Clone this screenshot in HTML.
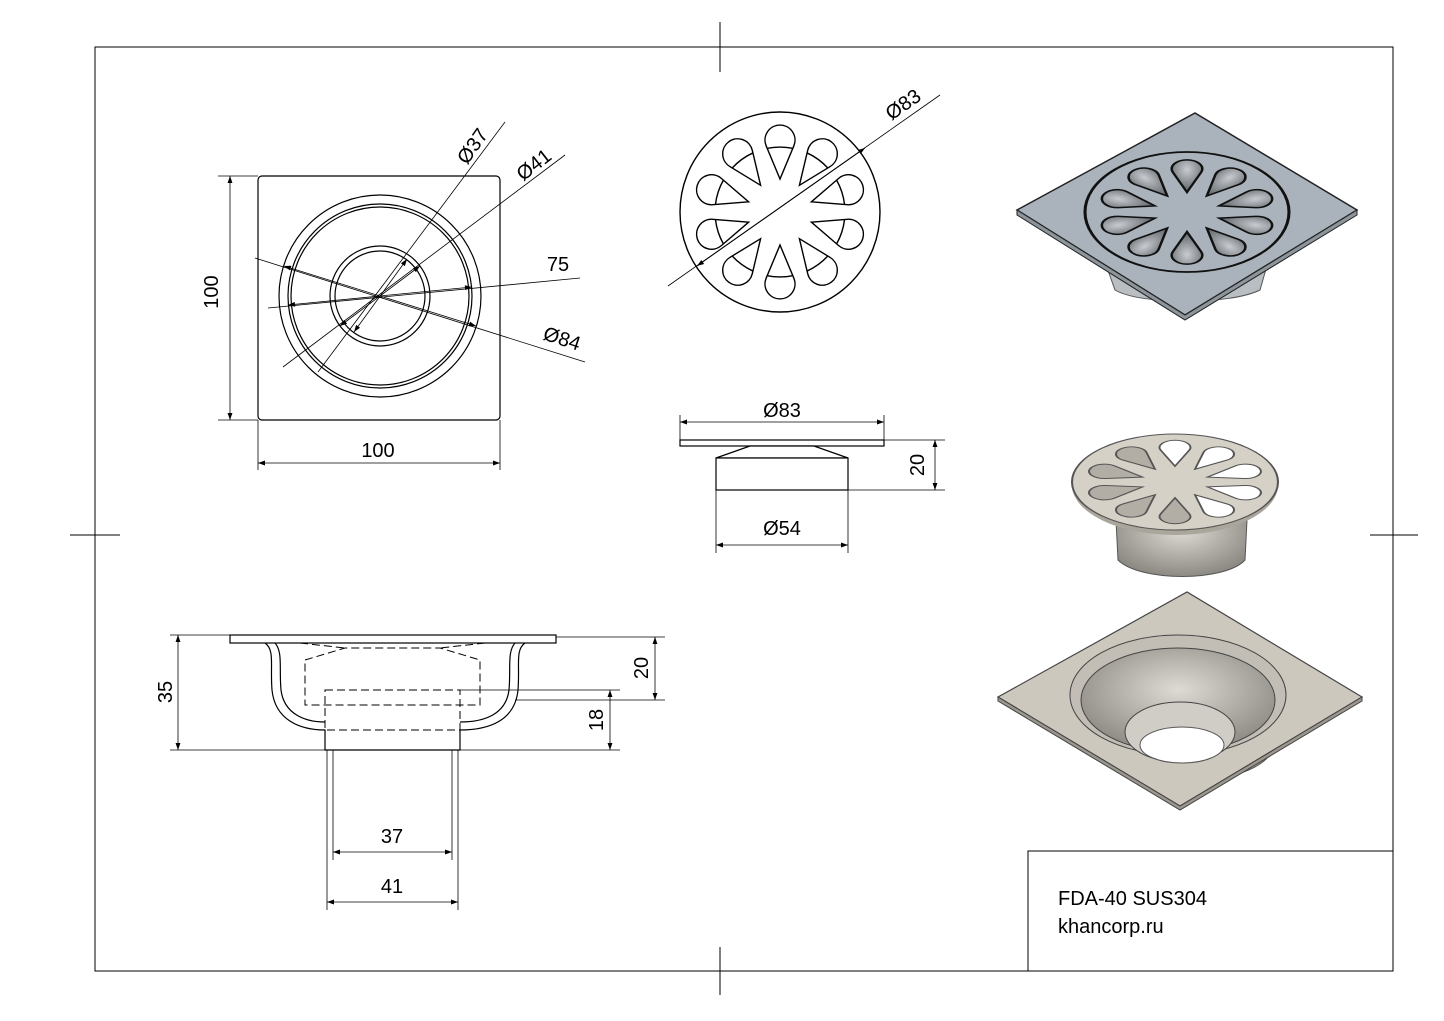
<!DOCTYPE html>
<html><head><meta charset="utf-8"><style>html,body{margin:0;padding:0;background:#fff}svg{display:block}text{font-family:"Liberation Sans",sans-serif;fill:#000}</style></head><body>
<svg width="1444" height="1021" viewBox="0 0 1444 1021" xmlns="http://www.w3.org/2000/svg">
<defs>
<marker id="a" viewBox="0 0 10 10" refX="10" refY="5" markerWidth="10" markerHeight="7" orient="auto-start-reverse" markerUnits="userSpaceOnUse"><path d="M0,1.5 L10,5 L0,8.5z" fill="#000"/></marker>
<radialGradient id="g1" cx="50%" cy="40%" r="60%"><stop offset="0" stop-color="#dedbd5"/><stop offset="1" stop-color="#8d8a84"/></radialGradient>
<radialGradient id="g2" cx="50%" cy="30%" r="70%"><stop offset="0" stop-color="#c8ccd0"/><stop offset="1" stop-color="#5c6166"/></radialGradient>
<path id="pt" d="M0,-33 L-13.85,-66.2 A15,15 0 1 1 13.85,-66.2 Z"/>
</defs>
<g stroke="#000" stroke-width="1" fill="none">
<rect x="95" y="47" width="1298" height="924"/>
<line x1="720" y1="22" x2="720" y2="72"/><line x1="720" y1="947" x2="720" y2="995"/>
<line x1="70" y1="535" x2="120" y2="535"/><line x1="1370" y1="535" x2="1418" y2="535"/>
<rect x="1028" y="851" width="365" height="120" fill="#fff"/>
</g>
<text x="1058" y="905" font-size="20">FDA-40 SUS304</text>
<text x="1058" y="933" font-size="20">khancorp.ru</text>

<!-- top view -->
<g stroke="#000" fill="none" stroke-width="1.2">
<rect x="258" y="176" width="242" height="244" rx="4"/>
<circle cx="380" cy="296" r="101"/><circle cx="380" cy="296" r="92"/><circle cx="380" cy="296" r="89"/>
<circle cx="380" cy="296" r="50"/><circle cx="380" cy="296" r="45"/>
</g>
<g stroke="#000" stroke-width="0.8" fill="none">
<line x1="218" y1="176" x2="258" y2="176"/><line x1="218" y1="420" x2="258" y2="420"/>
<line x1="230" y1="176" x2="230" y2="420" marker-start="url(#a)" marker-end="url(#a)"/>
<line x1="258" y1="420" x2="258" y2="470"/><line x1="500" y1="420" x2="500" y2="470"/>
<line x1="258" y1="463" x2="500" y2="463" marker-start="url(#a)" marker-end="url(#a)"/>
<line x1="318" y1="372" x2="505" y2="122" /><line x1="407" y1="259" x2="354" y2="332" marker-start="url(#a)" marker-end="url(#a)"/>
<line x1="283" y1="367" x2="565" y2="155"/><line x1="420" y1="266" x2="340" y2="326" marker-start="url(#a)" marker-end="url(#a)"/>
<line x1="268" y1="308" x2="580" y2="278"/><line x1="288" y1="305" x2="472" y2="287" marker-start="url(#a)" marker-end="url(#a)"/>
<line x1="255" y1="258" x2="585" y2="362"/><line x1="284" y1="266" x2="476" y2="326" marker-start="url(#a)" marker-end="url(#a)"/>
</g>
<text x="224" y="298" font-size="20" text-anchor="middle" transform="rotate(-90 218 298)">100</text>
<text x="378" y="457" font-size="20" text-anchor="middle">100</text>
<text x="478" y="150" font-size="20" text-anchor="middle" transform="rotate(-55 478 150)">Ø37</text>
<text x="538" y="170" font-size="20" text-anchor="middle" transform="rotate(-38 538 170)">Ø41</text>
<text x="558" y="271" font-size="20" text-anchor="middle">75</text>
<text x="560" y="345" font-size="20" text-anchor="middle" transform="rotate(18 560 345)">Ø84</text>

<!-- grate top -->
<g stroke="#000" fill="#fff" stroke-width="1.4" transform="translate(780,212)">
<circle r="100"/>
<g id="pp"><use href="#pt"/><path d="M-12.8,-63.7 A65,65 0 0 1 12.8,-63.7" fill="none"/></g>
<use href="#pp" transform="rotate(36)"/><use href="#pp" transform="rotate(72)"/><use href="#pp" transform="rotate(108)"/>
<use href="#pp" transform="rotate(144)"/><use href="#pp" transform="rotate(180)"/><use href="#pp" transform="rotate(216)"/>
<use href="#pp" transform="rotate(252)"/><use href="#pp" transform="rotate(288)"/><use href="#pp" transform="rotate(324)"/>
</g>
<g stroke="#000" stroke-width="0.8"><line x1="668" y1="286" x2="940" y2="95"/><line x1="697" y1="266" x2="865" y2="148" marker-start="url(#a)" marker-end="url(#a)"/></g>
<text x="907" y="110" font-size="20" text-anchor="middle" transform="rotate(-35 907 110)">Ø83</text>

<!-- grate side -->
<g stroke="#000" fill="#fff" stroke-width="1.2">
<rect x="680" y="440" width="204" height="6"/>
<path d="M750,446 L814,446 L848,458 L716,458 Z"/>
<rect x="716" y="458" width="132" height="32"/>
</g>
<g stroke="#000" stroke-width="0.8" fill="none">
<line x1="680" y1="415" x2="680" y2="440"/><line x1="884" y1="415" x2="884" y2="440"/>
<line x1="680" y1="422" x2="884" y2="422" marker-start="url(#a)" marker-end="url(#a)"/>
<line x1="884" y1="440" x2="945" y2="440"/><line x1="848" y1="490" x2="945" y2="490"/>
<line x1="935" y1="440" x2="935" y2="490" marker-start="url(#a)" marker-end="url(#a)"/>
<line x1="716" y1="490" x2="716" y2="553"/><line x1="848" y1="490" x2="848" y2="553"/>
<line x1="716" y1="545" x2="848" y2="545" marker-start="url(#a)" marker-end="url(#a)"/>
</g>
<text x="782" y="417" font-size="20" text-anchor="middle">Ø83</text>
<text x="924" y="465" font-size="20" text-anchor="middle" transform="rotate(-90 924 465)">20</text>
<text x="782" y="535" font-size="20" text-anchor="middle">Ø54</text>

<!-- section -->
<g stroke="#000" fill="none" stroke-width="1.2">
<rect x="230" y="635" width="326" height="8"/>
<path d="M265,643 C275,650 270,665 272,690 C275,720 300,730 325,730 L325,750 L460,750 L460,730 C490,730 515,720 518,690 C520,665 515,650 525,643"/>
<path d="M275,643 C283,652 279,668 281,690 C284,714 305,722 325,722"/>
<path d="M515,643 C507,652 511,668 509,690 C506,714 485,722 460,722"/>
</g>
<g stroke="#000" fill="none" stroke-width="1" stroke-dasharray="8,4">
<path d="M305,660 L345,648 L440,648 L480,660 L480,705 L305,705 Z"/>
<rect x="325" y="690" width="135" height="40"/>
<line x1="300" y1="643" x2="345" y2="648"/><line x1="485" y1="643" x2="440" y2="648"/>
</g>
<g stroke="#000" stroke-width="0.8" fill="none">
<line x1="170" y1="635" x2="230" y2="635"/><line x1="170" y1="750" x2="325" y2="750"/>
<line x1="178" y1="635" x2="178" y2="750" marker-start="url(#a)" marker-end="url(#a)"/>
<line x1="556" y1="637" x2="665" y2="637"/><line x1="515" y1="700" x2="665" y2="700"/>
<line x1="655" y1="637" x2="655" y2="700" marker-start="url(#a)" marker-end="url(#a)"/>
<line x1="460" y1="690" x2="620" y2="690"/><line x1="460" y1="750" x2="620" y2="750"/>
<line x1="610" y1="690" x2="610" y2="750" marker-start="url(#a)" marker-end="url(#a)"/>
<line x1="333" y1="750" x2="333" y2="860"/><line x1="452" y1="750" x2="452" y2="860"/>
<line x1="333" y1="852" x2="452" y2="852" marker-start="url(#a)" marker-end="url(#a)"/>
<line x1="327" y1="750" x2="327" y2="910"/><line x1="458" y1="750" x2="458" y2="910"/>
<line x1="327" y1="902" x2="458" y2="902" marker-start="url(#a)" marker-end="url(#a)"/>
</g>
<text x="172" y="692" font-size="20" text-anchor="middle" transform="rotate(-90 172 692)">35</text>
<text x="648" y="668" font-size="20" text-anchor="middle" transform="rotate(-90 648 668)">20</text>
<text x="603" y="720" font-size="20" text-anchor="middle" transform="rotate(-90 603 720)">18</text>
<text x="392" y="843" font-size="20" text-anchor="middle">37</text>
<text x="392" y="893" font-size="20" text-anchor="middle">41</text>

<!-- 3D top right -->
<path d="M1105,262 L1115,290 C1140,305 1230,305 1260,290 L1268,262 Z" fill="#b9bec3" stroke="#555"/>
<polygon points="1017,210 1195,113 1357,210 1185,315" fill="#aab3bb" stroke="#222" stroke-width="1.5"/>
<polygon points="1017,210 1185,315 1357,210 1357,215 1185,320 1017,215" fill="#8d959c" stroke="#222"/>
<g transform="translate(1187,212) scale(1.02,0.6)">
<circle r="100" fill="#aab3bb" stroke="#111" stroke-width="3"/>
<g fill="url(#g2)" stroke="#111" stroke-width="2.5">
<use href="#pt" transform="rotate(0)"/><use href="#pt" transform="rotate(36)"/><use href="#pt" transform="rotate(72)"/><use href="#pt" transform="rotate(108)"/><use href="#pt" transform="rotate(144)"/>
<use href="#pt" transform="rotate(180)"/><use href="#pt" transform="rotate(216)"/><use href="#pt" transform="rotate(252)"/><use href="#pt" transform="rotate(288)"/><use href="#pt" transform="rotate(324)"/>
</g></g>

<!-- 3D middle grate -->
<path d="M1115,500 L1118,560 C1140,582 1225,582 1245,560 L1248,500 Z" fill="url(#g1)" stroke="#555"/>
<ellipse cx="1175" cy="485" rx="103" ry="50" fill="#aba69c"/>
<g transform="translate(1175,482) scale(1.03,0.48)">
<circle r="100" fill="#d6d1c7" stroke="#555" stroke-width="2"/>
<g fill="#fff" stroke="#555" stroke-width="2">
<use href="#pt" transform="rotate(0)"/><use href="#pt" transform="rotate(36)"/><use href="#pt" transform="rotate(72)"/><use href="#pt" transform="rotate(108)"/><use href="#pt" transform="rotate(144)"/>
</g>
<g fill="#b3aea5" stroke="#555" stroke-width="2">
<use href="#pt" transform="rotate(180)"/><use href="#pt" transform="rotate(216)"/><use href="#pt" transform="rotate(252)"/><use href="#pt" transform="rotate(288)"/><use href="#pt" transform="rotate(324)"/>
</g></g>

<!-- 3D bottom body -->
<path d="M1095,745 C1110,790 1260,795 1275,745 Z" fill="#a9a59d" stroke="#555"/>
<polygon points="998,697 1187,592 1362,697 1180,806" fill="#cdc8be" stroke="#444" stroke-width="1.2"/>
<polygon points="998,697 1180,806 1362,697 1362,701 1180,810 998,701" fill="#9c978e" stroke="#444"/>
<ellipse cx="1178" cy="695" rx="108" ry="60" fill="#c3beb5" stroke="#444"/>
<ellipse cx="1178" cy="700" rx="97" ry="52" fill="url(#g1)" stroke="#444"/>
<ellipse cx="1180" cy="732" rx="55" ry="30" fill="#d0cdc7" stroke="#444"/>
<ellipse cx="1182" cy="745" rx="42" ry="18" fill="#fff" stroke="#555"/>
</svg>
</body></html>
